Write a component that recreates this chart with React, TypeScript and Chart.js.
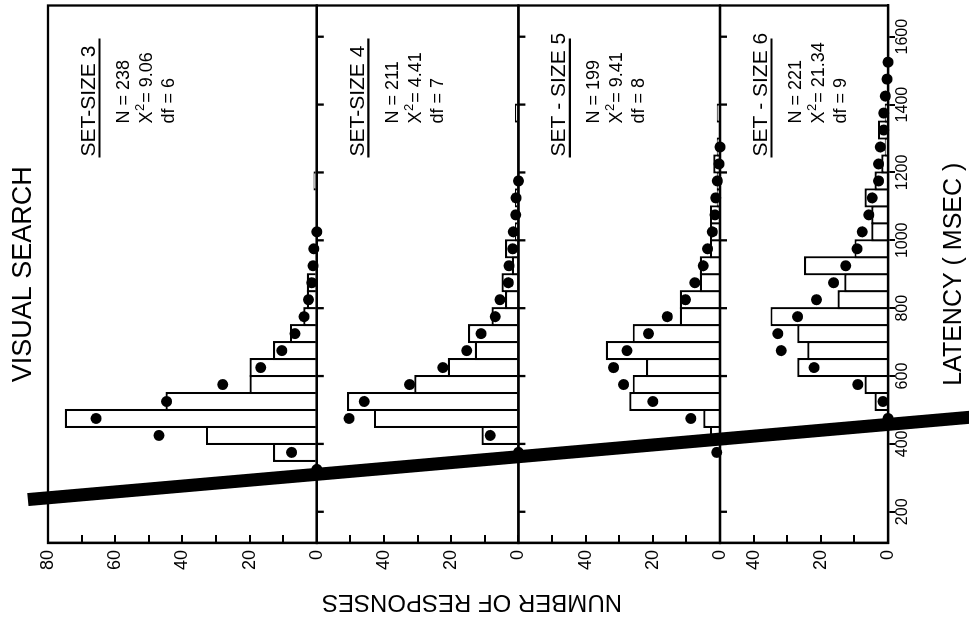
import React, { useEffect, useRef } from "react";
import { Chart, registerables } from "chart.js";

Chart.register(...registerables);

const FONT = "'Liberation Sans', Arial, sans-serif";

// latency bin centres (msec), 50 msec bins
const latencyBins = [
  325, 375, 425, 475, 525, 575, 625, 675, 725, 775, 825, 875, 925, 975, 1025,
  1075, 1125, 1175, 1225, 1275, 1325, 1375, 1425, 1475, 1525,
];

// observed histograms (number of responses per bin)
const set3Observed = [0, 13, 33, 75, 45, 20, 20, 13, 8, 4, 3, 3, 0, 0, 0, 0, 0, 1, 0, 0, 0, 0, 0, 0, 0];
const set4Observed = [0, 0, 11, 43, 51, 31, 21, 13, 15, 8, 4, 5, 2, 4, 1, 0, 1, 0, 0, 0, 0, 1, 0, 0, 0];
const set5Observed = [0, 0, 3, 5, 27, 26, 22, 34, 26, 12, 12, 6, 6, 3, 3, 3, 1, 1, 2, 1, 0, 1, 0, 0, 0];
const set6Observed = [0, 0, 0, 0, 4, 7, 27, 24, 27, 35, 15, 13, 25, 10, 5, 5, 7, 4, 2, 1, 3, 1, 0, 0, 0];

// predicted frequencies (filled dots)
const set3Predicted = [0, 7.5, 47, 65.7, 44.7, 28, 16.7, 10.4, 6.5, 3.8, 2.5, 1.5, 1.1, 0.9, 0, null, null, null, null, null, null, null, null, null, null];
const set4Predicted = [null, 0, 8.4, 50.4, 45.9, 32.4, 22.5, 15.4, 11.1, 6.9, 5.5, 3, 2.8, 1.7, 1.5, 0.8, 0.7, 0, null, null, null, null, null, null, null];
const set5Predicted = [null, 1, null, 8.7, 20, 28.7, 31.7, 27.7, 21.3, 15.7, 10.3, 7.5, 5, 3.7, 2.3, 1.5, 1.3, 0.8, 0.3, 0, null, null, null, null, null];
const set6Predicted = [null, null, null, 0, 1.5, 9, 22, 31.8, 32.8, 26.9, 21.3, 16.2, 12.6, 9.2, 7.7, 5.7, 4.7, 2.8, 2.8, 2.3, 1.3, 1.3, 0.8, 0.3, 0];

const panelIds = ["y3", "y4", "y5", "y6"];
const responseMax = [80, 60, 60, 50];
const observedSeries = [set3Observed, set4Observed, set5Observed, set6Observed];
const predictedSeries = [set3Predicted, set4Predicted, set5Predicted, set6Predicted];

const setSizeLabels = ["SET-SIZE 3", "SET-SIZE 4", "SET - SIZE 5", "SET - SIZE 6"];
const nLabels = ["N = 238", "N = 211", "N = 199", "N = 221"];
const chiValues = ["9.06", "4.41", "9.41", "21.34"];
const dfLabels = ["df = 6", "df = 7", "df = 8", "df = 9"];

const latencyTicks = [200, 400, 600, 800, 1000, 1200, 1400, 1600];
const latencyRange = [108, 1692];

// heavy pen stroke across the scanned figure, in (latency, set-size-3 count) units
const penStroke = [
  { x: 236, y: 86 },
  { x: 480, y: -196 },
];

const framePlugin = {
  id: "panelFrames",
  afterDatasetsDraw(chart: any) {
    const { ctx, chartArea: a } = chart;
    const xs = chart.scales.x;
    ctx.save();
    ctx.strokeStyle = "#000";
    ctx.lineWidth = 2.3;
    panelIds.forEach((id, i) => {
      const s = chart.scales[id];
      ctx.strokeRect(a.left, s.top, a.right - a.left, s.bottom - s.top);
      if (i < panelIds.length - 1) {
        latencyTicks.forEach((t) => {
          const px = xs.getPixelForValue(t);
          ctx.beginPath();
          ctx.moveTo(px, s.bottom);
          ctx.lineTo(px, s.bottom + 7);
          ctx.stroke();
        });
      }
    });
    ctx.restore();
  },
};

const textPlugin = {
  id: "panelText",
  afterDraw(chart: any) {
    const { ctx, chartArea: a } = chart;
    ctx.save();
    ctx.fillStyle = "#000";
    ctx.strokeStyle = "#000";
    ctx.textAlign = "left";
    ctx.textBaseline = "alphabetic";
    panelIds.forEach((id, i) => {
      const s = chart.scales[id];
      ctx.font = `21px ${FONT}`;
      ctx.fillText(setSizeLabels[i], a.right - 151, s.top + 47);
      ctx.lineWidth = 2.2;
      ctx.beginPath();
      ctx.moveTo(a.right - 152, s.top + 51.5);
      ctx.lineTo(a.right - 33, s.top + 51.5);
      ctx.stroke();
      ctx.font = `18px ${FONT}`;
      const x0 = a.right - 118;
      ctx.fillText(nLabels[i], x0, s.top + 81);
      // chi-square line with a raised "2"
      const yChi = s.top + 104;
      ctx.fillText("X", x0, yChi);
      const wX = ctx.measureText("X").width;
      ctx.font = `13px ${FONT}`;
      ctx.fillText("2", x0 + wX + 0.5, yChi - 8);
      const w2 = ctx.measureText("2").width;
      ctx.font = `18px ${FONT}`;
      ctx.fillText("= " + chiValues[i], x0 + wX + w2 + 1.5, yChi);
      ctx.fillText(dfLabels[i], x0, s.top + 126);
    });
    ctx.font = `24px ${FONT}`;
    ctx.translate(28, (a.top + a.bottom) / 2 + 4);
    ctx.rotate(-Math.PI / 2);
    ctx.textAlign = "center";
    ctx.textBaseline = "middle";
    ctx.fillText("NUMBER OF RESPONSES", 0, 0);
    ctx.restore();
  },
};

function responseAxis(i: number) {
  const max = responseMax[i];
  return {
    type: "linear",
    position: "left",
    stack: "responses",
    stackWeight: max,
    min: 0,
    max,
    afterFit: (s: any) => {
      s.width = 87;
    },
    ticks: {
      stepSize: 10,
      autoSkip: false,
      padding: 15,
      color: "#000",
      font: { family: FONT, size: 18 },
      callback: (v: any) => (v % 20 === 0 && (i === 0 || v !== max) ? String(v) : ""),
    },
    grid: {
      drawOnChartArea: false,
      drawTicks: true,
      tickLength: -8,
      tickColor: "#000",
      tickWidth: 2,
      color: "#000",
      lineWidth: 2,
    },
    border: { display: true, color: "#000", width: 2.3 },
  };
}

export default function App() {
  const ref = useRef<HTMLCanvasElement>(null);

  useEffect(() => {
    const datasets: any[] = [];
    panelIds.forEach((id, i) => {
      datasets.push({
        type: "bar",
        xAxisID: "x",
        yAxisID: id,
        data: latencyBins
          .map((b, k) => ({ x: b, y: observedSeries[i][k] }))
          .filter((p) => p.y > 0),
        backgroundColor: "#fff",
        borderColor: "#000",
        borderWidth: 2.2,
        borderSkipped: "start",
        grouped: false,
        categoryPercentage: 1,
        barPercentage: 1.129,
        order: 3,
      });
      datasets.push({
        type: "scatter",
        xAxisID: "x",
        yAxisID: id,
        data: latencyBins
          .map((b, k) => ({ x: b, y: predictedSeries[i][k] }))
          .filter((p) => p.y !== null),
        showLine: false,
        pointRadius: 5.5,
        pointBorderWidth: 0,
        pointBackgroundColor: "#000",
        backgroundColor: "#000",
        clip: false,
        order: 2,
      });
    });
    datasets.push({
      type: "line",
      xAxisID: "x",
      yAxisID: "y3",
      data: penStroke,
      borderColor: "#000",
      borderWidth: 13,
      borderCapStyle: "butt",
      pointRadius: 0,
      fill: false,
      clip: false,
      order: 1,
    });

    const scales: any = {
      x: {
        type: "linear",
        position: "bottom",
        min: latencyRange[0],
        max: latencyRange[1],
        offset: false,
        afterBuildTicks: (s: any) => {
          s.ticks = latencyTicks.map((v) => ({ value: v }));
        },
        afterFit: (s: any) => {
          s.height = 81;
        },
        ticks: {
          autoSkip: false,
          maxRotation: 0,
          minRotation: 0,
          padding: -2,
          color: "#000",
          font: { family: FONT, size: 16 },
          callback: (v: any) => String(v),
        },
        grid: {
          offset: false,
          drawOnChartArea: false,
          drawTicks: true,
          tickLength: 7,
          tickColor: "#000",
          tickWidth: 2,
          color: "#000",
          lineWidth: 2,
        },
        border: { display: true, color: "#000", width: 2.3 },
        title: {
          display: true,
          text: "LATENCY ( MSEC )",
          color: "#000",
          font: { family: FONT, size: 25 },
          padding: { top: 0, bottom: 0 },
        },
      },
    };
    // left-hand stacked boxes are laid out in reverse order of definition
    [...panelIds].reverse().forEach((id) => {
      scales[id] = responseAxis(panelIds.indexOf(id));
    });

    const chart = new Chart(ref.current as HTMLCanvasElement, {
      type: "bar",
      data: { datasets },
      options: {
        animation: false,
        responsive: false,
        maintainAspectRatio: false,
        devicePixelRatio: 1,
        events: [],
        layout: { padding: { left: 0, right: 3, top: 0, bottom: 0 } },
        plugins: {
          legend: { display: false },
          tooltip: { enabled: false },
          title: {
            display: true,
            text: "VISUAL SEARCH",
            fullSize: false,
            color: "#000",
            font: { family: FONT, size: 27, weight: "normal" },
            padding: { top: 7, bottom: 8.6 },
          },
        },
        scales,
      } as any,
      plugins: [framePlugin, textPlugin],
    } as any);
    return () => chart.destroy();
  }, []);

  return (
    <div
      style={{
        position: "fixed",
        left: 0,
        top: 0,
        width: 969,
        height: 630,
        overflow: "hidden",
        background: "#fff",
      }}
    >
      <canvas
        ref={ref}
        width={630}
        height={969}
        style={{
          position: "absolute",
          left: 0,
          top: 0,
          width: 630,
          height: 969,
          transformOrigin: "0 0",
          transform: "translate(0px, 630px) rotate(-90deg)",
        }}
      />
    </div>
  );
}
